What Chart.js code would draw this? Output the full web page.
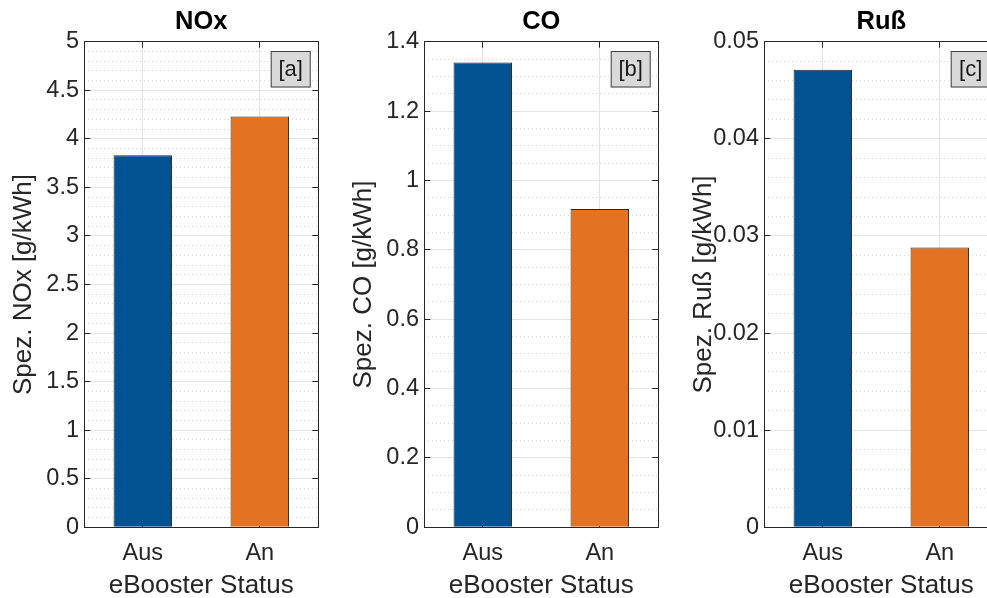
<!DOCTYPE html>
<html>
<head>
<meta charset="utf-8">
<title>eBooster Emissionen</title>
<script src="https://cdn.jsdelivr.net/npm/chart.js@4/dist/chart.umd.min.js"></script>
<style>
  html, body { margin: 0; padding: 0; background: #fff; overflow: hidden; width: 987px; height: 598px; }
  .panel { position: absolute; top: 0; width: 340px; height: 598px; }
</style>
</head>
<body>
<div class="panel" style="left:0px"><canvas id="c0" width="340" height="598"></canvas></div>
<div class="panel" style="left:340px"><canvas id="c1" width="340" height="598"></canvas></div>
<div class="panel" style="left:680px"><canvas id="c2" width="340" height="598"></canvas></div>
<script>
// Daten
const categories = ['Aus', 'An'];
const noxValues = [3.83, 4.23];
const coValues = [1.34, 0.918];
const russValues = [0.0471, 0.0288];

const titles = ['NOx', 'CO', 'Ruß'];
const yLabels = ['Spez. NOx [g/kWh]', 'Spez. CO [g/kWh]', 'Spez. Ruß [g/kWh]'];
const panelTags = ['[a]', '[b]', '[c]'];
const yMax = [5, 1.4, 0.05];
const yMajorStep = [0.5, 0.2, 0.01];
const yMinorStep = [0.1, 0.05, 0.002];

const barColors = ['#005293', '#E37222'];
const axisColor = '#262626';
const gridColor = '#e3e3e3';
const minorColor = '#d4d4d4';
const FONT = '"Liberation Sans", Arial, sans-serif';

// Textbox [a]/[b]/[c] oben rechts im Plotbereich
const tagPlugin = {
  id: 'tagBox',
  afterDraw(chart, args, opts) {
    const { ctx, chartArea } = chart;
    const w = 40, h = 36.5;
    const x = chartArea.right - 7.6 - w;
    const y = chartArea.top + 9.3;
    ctx.save();
    ctx.fillStyle = '#d9d9d9';
    ctx.fillRect(x, y, w, h);
    ctx.strokeStyle = '#404040';
    ctx.lineWidth = 1;
    ctx.strokeRect(x + 0.5, y + 0.5, w - 1, h - 1);
    ctx.fillStyle = '#1a1a1a';
    ctx.font = '22px ' + FONT;
    ctx.textAlign = 'center';
    ctx.textBaseline = 'middle';
    ctx.fillText(opts.text, x + w / 2, y + h / 2 + 1);
    ctx.restore();
  }
};

function fmt(v) {
  return String(+v.toFixed(6));
}

function makePanel(canvas, idx, values) {
  const max = yMax[idx];
  const nMajor = Math.round(max / yMajorStep[idx]);
  const nMinor = Math.round(max / yMinorStep[idx]);

  return new Chart(canvas, {
    type: 'bar',
    data: {
      labels: categories,
      datasets: [{
        data: values,
        backgroundColor: barColors,
        borderColor: axisColor,
        borderWidth: 1,
        barPercentage: 0.5,
        categoryPercentage: 1,
      }]
    },
    options: {
      responsive: false,
      animation: false,
      events: [],
      layout: { padding: { left: 0, right: 21.7, top: 0, bottom: 0 } },
      plugins: {
        legend: { display: false },
        tooltip: { enabled: false },
        title: {
          display: true,
          text: titles[idx],
          fullSize: false,
          color: '#000',
          font: { family: FONT, size: 25.5, weight: 'bold' },
          padding: { top: 6.7, bottom: 4.4 },
        },
        tagBox: { text: panelTags[idx] },
      },
      scales: {
        x: {
          type: 'category',
          position: 'bottom',
          offset: true,
          grid: { offset: false, color: gridColor, tickLength: -6, tickColor: axisColor },
          border: { color: axisColor },
          ticks: { color: axisColor, font: { family: FONT, size: 23.5 }, padding: 18 },
          title: {
            display: true,
            text: 'eBooster Status',
            color: axisColor,
            font: { family: FONT, size: 26 },
            padding: { top: 0, bottom: -3.6 },
          },
          afterFit: s => { s.height = 70.7; },
        },
        xTop: {
          type: 'category',
          position: 'top',
          offset: true,
          grid: { offset: false, drawOnChartArea: false, tickLength: -6, tickColor: axisColor },
          border: { color: axisColor },
          ticks: { display: false },
          afterFit: s => { s.height = 0; },
        },
        yMinor: {
          type: 'linear',
          position: 'left',
          min: 0,
          max: max,
          ticks: { display: false, stepSize: yMinorStep[idx], maxTicksLimit: nMinor + 2 },
          grid: { color: minorColor, drawTicks: false },
          border: { display: false, dash: [1, 3] },
          afterFit: s => { s.width = 0; },
        },
        y: {
          type: 'linear',
          position: 'left',
          min: 0,
          max: max,
          grid: { color: gridColor, tickLength: -6, tickColor: axisColor },
          border: { color: axisColor },
          ticks: {
            stepSize: yMajorStep[idx],
            maxTicksLimit: nMajor + 2,
            color: axisColor,
            font: { family: FONT, size: 23.5 },
            padding: 11.3,
            callback: v => fmt(v),
          },
          title: {
            display: true,
            text: yLabels[idx],
            color: axisColor,
            font: { family: FONT, size: 26 },
            padding: { top: 8.4, bottom: 0 },
          },
          afterFit: s => { s.width = 84.3; },
        },
        yRight: {
          type: 'linear',
          position: 'right',
          min: 0,
          max: max,
          grid: { drawOnChartArea: false, tickLength: -6, tickColor: axisColor },
          border: { color: axisColor },
          ticks: { display: false, stepSize: yMajorStep[idx], maxTicksLimit: nMajor + 2 },
          afterFit: s => { s.width = 0; },
        },
      }
    },
    plugins: [tagPlugin]
  });
}

makePanel(document.getElementById('c0'), 0, noxValues);
makePanel(document.getElementById('c1'), 1, coValues);
makePanel(document.getElementById('c2'), 2, russValues);
</script>
</body>
</html>
